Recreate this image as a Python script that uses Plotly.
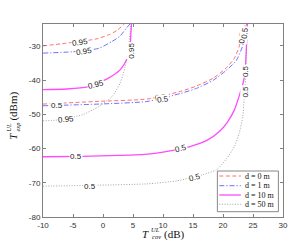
import plotly.graph_objects as go

# ---------------- data ----------------
# d = 0 m
d0_095_x = [-10, -6.1, -1.2, 0.9, 2.3, 3.55]
d0_095_y = [-30.0, -29.2, -28.0, -26.8, -25.5, -23.6]
d0_05_x = [-10, -0.7, 7.5, 12.9, 15.6, 18.4, 20.5, 21.9, 22.7, 23.1, 23.5, 23.75]
d0_05_y = [-47.0, -46.2, -45.5, -43.3, -41.7, -39.4, -36.5, -33.6, -30.2, -27.3, -25.3, -23.6]
# d = 1 m
d1_095_x = [-10, -5.0, -0.7, 1.5, 2.85, 3.9, 4.5]
d1_095_y = [-32.1, -31.7, -30.7, -28.7, -27.1, -24.8, -23.6]
d1_05_x = [-10, -0.7, 7.5, 12.9, 15.6, 18.4, 20.5, 22.2, 23.0, 23.5, 23.8, 24.0]
d1_05_y = [-47.5, -47.0, -46.2, -43.9, -42.4, -40.0, -37.2, -34.3, -31.3, -28.8, -26.2, -23.6]
# d = 10 m
d10_095_x = [-10, -6.1, -2.6, 0.9, 2.85, 3.9, 4.5, 4.65, 4.75]
d10_095_y = [-42.8, -42.6, -42.0, -39.4, -37.0, -34.1, -30.2, -26.3, -23.6]
d10_05_x = [-10, -3.4, 2.6, 7.5, 10.7, 14.5, 17.3, 19.4, 20.8, 21.9, 22.7, 23.4, 23.7, 23.85, 23.95, 24.05]
d10_05_y = [-62.4, -62.3, -62.0, -61.6, -60.8, -59.4, -57.6, -55.0, -52.1, -48.7, -44.6, -40.5, -37.0, -32.6, -28.3, -23.6]
# d = 50 m
d50_095_x = [-10, -7.2, -3.4, -0.7, 1.5, 2.85, 3.7, 4.2, 4.5, 4.65]
d50_095_y = [-51.9, -51.6, -50.1, -47.7, -44.8, -40.9, -36.0, -31.2, -26.3, -23.6]
d50_05_x = [-10, -0.7, 7.5, 12.4, 16.7, 18.9, 20.5, 21.9, 22.7, 23.3, 23.5, 23.7, 23.8, 23.9, 24.0]
d50_05_y = [-71.0, -70.7, -70.3, -69.4, -67.6, -66.2, -63.2, -59.4, -55.5, -50.6, -45.7, -41.3, -37.0, -31.2, -23.6]

series_names = ["d = 0 m", "d = 1 m", "d = 10 m", "d = 50 m"]

# contour labels
label_text = ["0.95", "0.95", "0.95", "0.95", "0.95",
              "0.5", "0.5", "0.5", "0.5", "0.5", "0.5",
              "0.5", "0.5", "0.5", "0.5", "0.5", "0.5"]
label_x = [-3.8, -3.1, -1.1, -6.2, 4.6,
           -7.6, -7.6, 9.7, 10.0, 23.2, 23.6,
           -4.5, 13.0, 23.65, -2.2, 15.35, 23.7]
label_y = [-29.0, -31.6, -41.4, -51.6, -31.5,
           -46.9, -47.4, -45.0, -45.6, -27.5, -26.3,
           -62.3, -60.0, -37.4, -71.0, -68.6, -43.3]
label_angle = [-8, -8, -15, -6, -90,
               0, 0, -8, -8, -85, -85,
               0, -15, -90, 0, -15, -90]

x_ticks = [-10, -5, 0, 5, 10, 15, 20, 25, 30]
y_ticks = [-80, -70, -60, -50, -40, -30]

# ---------------- styling ----------------
colors = ["#ff4a4a", "#4a4aff", "#ff4aff", "#8a8a8a"]
dashes = ["4px,2.5px", "5px,2px,1.2px,2px", "solid", "1px,1.6px"]
widths = [0.8, 0.8, 1.3, 0.8]

xs = [(d0_095_x, d0_05_x), (d1_095_x, d1_05_x), (d10_095_x, d10_05_x), (d50_095_x, d50_05_x)]
ys = [(d0_095_y, d0_05_y), (d1_095_y, d1_05_y), (d10_095_y, d10_05_y), (d50_095_y, d50_05_y)]

fig = go.Figure()
for i in range(4):
    fig.add_trace(go.Scatter(
        x=list(xs[i][0]) + [None] + list(xs[i][1]),
        y=list(ys[i][0]) + [None] + list(ys[i][1]),
        mode="lines", name=series_names[i], showlegend=False,
        line=dict(color=colors[i], dash=dashes[i], width=widths[i], shape="spline", smoothing=0.6),
        connectgaps=False, hoverinfo="skip",
    ))

annotations = []
for t, x, y, a in zip(label_text, label_x, label_y, label_angle):
    annotations.append(dict(x=x, y=y, xref="x", yref="y", text=t, showarrow=False,
                            textangle=a, bgcolor="white", borderpad=0,
                            font=dict(size=8, color="#222", family="Liberation Sans")))

serif = "Liberation Serif"
def pap(px, py):
    return (px - 43) / 245, (217 - py) / 193

for txt, px, py, sz, ang in [
    ("<i>T</i>", 148, 234, 11, 0), ("<i>UL</i>", 158, 229.5, 6.5, 0),
    ("<i>cov</i>", 158.5, 237, 6.5, 0), ("(dB)", 177, 234.5, 11, 0),
    ("<i>T</i>", 12, 136, 11, -90), ("<i>UL</i>", 7, 127, 6.5, -90),
    ("<i>exp</i>", 16, 127, 6.5, -90), ("(dBm)", 13, 106, 11, -90)]:
    xp, yp = pap(px, py)
    annotations.append(dict(x=xp, y=yp, xref="paper", yref="paper", text=txt, showarrow=False,
                            textangle=ang, xanchor="center", yanchor="middle",
                            font=dict(size=sz, color="#111", family=serif)))

# compact legend
shapes = []
lx0, ly0 = pap(221, 211.7)
lx1, ly1 = pap(283.3, 171)
shapes.append(dict(type="rect", xref="paper", yref="paper", x0=lx0, y0=ly0, x1=lx1, y1=ly1,
                   line=dict(color="#888", width=1), fillcolor="white", layer="above"))
row_py = [176, 185.7, 195, 204.3]
for i, name in enumerate(series_names):
    sx0, sy = pap(223, row_py[i])
    sx1, _ = pap(245, row_py[i])
    shapes.append(dict(type="line", xref="paper", yref="paper", x0=sx0, x1=sx1, y0=sy, y1=sy,
                       line=dict(color=colors[i], dash=dashes[i], width=widths[i]), layer="above"))
    tx, _ = pap(247, row_py[i])
    annotations.append(dict(x=tx, y=sy, xref="paper", yref="paper", text=name, showarrow=False,
                            xanchor="left", yanchor="middle",
                            font=dict(size=8, color="#111", family=serif)))

axis_common = dict(showline=True, linecolor="#808080", linewidth=1, mirror="ticks",
                   ticks="inside", ticklen=3, tickcolor="#808080", tickwidth=1,
                   showgrid=False, zeroline=False,
                   tickfont=dict(size=8, color="#333", family="Liberation Sans"))

fig.update_layout(
    width=299, height=251,
    margin=dict(l=43, r=11, t=24, b=34),
    paper_bgcolor="white", plot_bgcolor="white",
    xaxis=dict(range=[-10, 30], tickvals=x_ticks, ticktext=[str(v) for v in x_ticks], **axis_common),
    yaxis=dict(range=[-80, -23.6], tickvals=y_ticks, ticktext=[str(v) for v in y_ticks], **axis_common),
    annotations=annotations, shapes=shapes, showlegend=False,
)

fig.write_html("out.html", config={"displayModeBar": False},
               post_script="document.body.style.margin='0';")
